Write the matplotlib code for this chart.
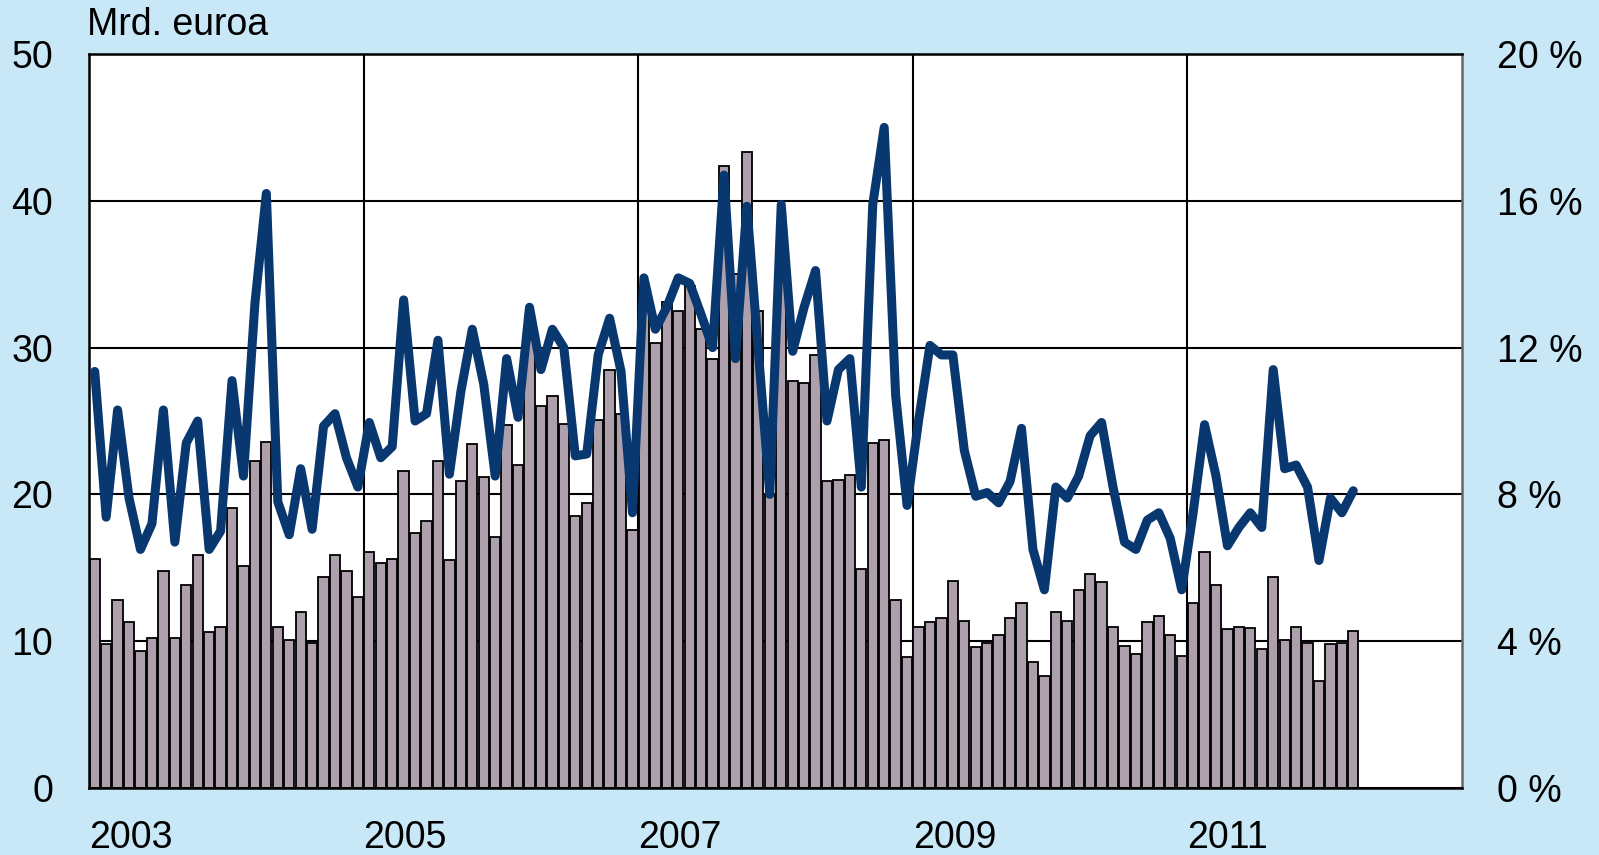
import matplotlib
matplotlib.use('Agg')
import matplotlib.pyplot as plt
import numpy as np

plt.rcParams['font.family'] = ['Liberation Sans', 'DejaVu Sans']

# monthly data, Jan 2003 .. Mar 2012
bars = [15.6, 9.8, 12.8, 11.3, 9.3, 10.2, 14.8, 10.2, 13.8, 15.9, 10.6, 11.0,
        19.1, 15.1, 22.3, 23.6, 11.0, 10.1, 12.0, 9.9, 14.4, 15.9, 14.8, 13.0,
        16.1, 15.3, 15.6, 21.6, 17.4, 18.2, 22.3, 15.5, 20.9, 23.4, 21.2, 17.1,
        24.7, 22.0, 30.5, 26.0, 26.7, 24.8, 18.5, 19.4, 25.1, 28.5, 25.5, 17.6,
        34.0, 30.3, 33.1, 32.5, 34.2, 31.3, 29.2, 42.4, 35.0, 43.3, 32.5, 20.0,
        36.7, 27.7, 27.6, 29.5, 20.9, 21.0, 21.3, 14.9, 23.5, 23.7, 12.8, 8.9,
        10.95, 11.3, 11.55, 14.1, 11.4, 9.6, 9.9, 10.4, 11.55, 12.6, 8.56, 7.6,
        12.0, 11.4, 13.5, 14.6, 14.0, 11.0, 9.7, 9.1, 11.3, 11.7, 10.4, 9.0,
        12.6, 16.1, 13.8, 10.8, 11.0, 10.9, 9.5, 14.4, 10.1, 11.0, 9.9, 7.3,
        9.8, 9.9, 10.7]

line_pct = [11.35, 7.38, 10.3, 7.9, 6.5, 7.2, 10.3, 6.7, 9.4, 10.0, 6.5, 7.0,
            11.1, 8.5, 13.2, 16.2, 7.8, 6.9, 8.7, 7.05, 9.86, 10.2, 9.0, 8.2,
            9.96, 9.0, 9.3, 13.3, 10.0, 10.2, 12.2, 8.55, 10.8, 12.5, 11.0, 8.5,
            11.7, 10.1, 13.1, 11.4, 12.5, 12.0, 9.05, 9.1, 11.8, 12.8, 11.35, 7.5,
            13.9, 12.5, 13.1, 13.9, 13.75, 12.9, 12.0, 16.7, 11.7, 15.85, 11.9, 8.0,
            15.9, 11.9, 13.1, 14.1, 10.0, 11.4, 11.7, 8.2, 15.9, 18.0, 10.7, 7.7,
            10.0, 12.06, 11.8, 11.8, 9.2, 7.95, 8.05, 7.77, 8.35, 9.8, 6.5, 5.4,
            8.2, 7.9, 8.5, 9.6, 9.96, 8.2, 6.7, 6.5, 7.3, 7.5, 6.8, 5.4,
            7.5, 9.9, 8.5, 6.6, 7.1, 7.5, 7.1, 11.4, 8.7, 8.8, 8.2, 6.2,
            7.9, 7.5, 8.1]

years = ['2003', '2005', '2007', '2009', '2011']
left_ticks = [0, 10, 20, 30, 40, 50]
right_ticks = [0, 4, 8, 12, 16, 20]

bg = '#c8e8f8'
fig = plt.figure(figsize=(15.99, 8.55), dpi=100, facecolor=bg)

ax = fig.add_axes([89/1599, 1-788/855, (1462-89)/1599, (788-54)/855])
ax.set_facecolor('white')

x = np.arange(len(bars)) + 0.5
ax.bar(x, bars, width=0.9, color='#ad9fab', edgecolor='black', linewidth=1.3, zorder=2)

ax.set_xlim(0, 120)
ax.set_ylim(0, 50)
ax.set_yticks(left_ticks)
ax.set_yticklabels([str(t) for t in left_ticks])
ax.set_xticks([0, 24, 48, 72, 96])
ax.set_xticklabels(years, ha='left')
ax.tick_params(axis='both', length=0, labelsize=27)
ax.tick_params(axis='y', pad=26)
ax.tick_params(axis='x', pad=23)

ax.set_axisbelow(True)
ax.grid(True, color='black', linewidth=1.5)
for sp in ax.spines.values():
    sp.set_color('black')
    sp.set_linewidth(1.8)
ax.spines['right'].set_color('#666666')

ax2 = ax.twinx()
ax2.plot(x, line_pct, color='#08386f', linewidth=6.5, solid_joinstyle='round',
         solid_capstyle='round', zorder=3)
ax2.set_ylim(0, 20)
ax2.set_yticks(right_ticks)
ax2.set_yticklabels([f'{t} %' for t in right_ticks])
ax2.tick_params(axis='y', length=0, labelsize=27, pad=25)
for sp in ax2.spines.values():
    sp.set_visible(False)

fig.text(87/1599, 1-25/855, 'Mrd. euroa', fontsize=27, ha='left', va='center')

fig.savefig('out.png', dpi=100, facecolor=bg)
